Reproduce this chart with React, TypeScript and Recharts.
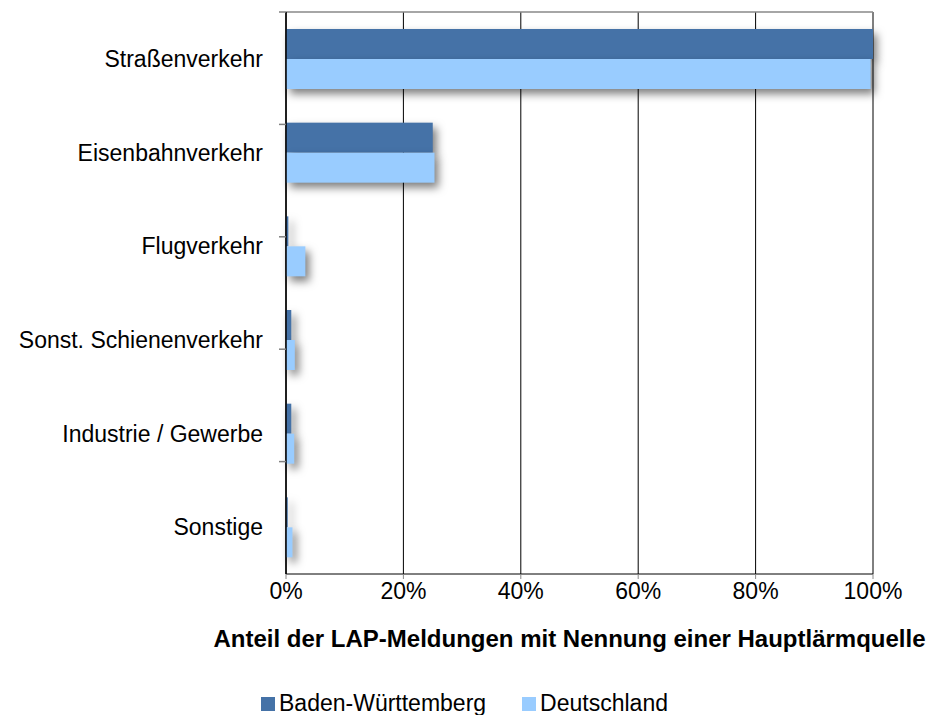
import { BarChart, Bar, XAxis, YAxis, CartesianGrid, Legend } from 'recharts';

const categories = ['Straßenverkehr', 'Eisenbahnverkehr', 'Flugverkehr', 'Sonst. Schienenverkehr', 'Industrie / Gewerbe', 'Sonstige'];
const badenWuerttemberg = [100, 25.0, 0.4, 0.9, 0.9, 0.3];
const deutschland = [99.6, 25.3, 3.3, 1.5, 1.4, 1.1];
const xTicks = [0, 20, 40, 60, 80, 100];
const bandEdges = [1, 2, 3, 4, 5];
const axisTitle = 'Anteil der LAP-Meldungen mit Nennung einer Hauptlärmquelle';

const seriesNames = ['Baden-Württemberg', 'Deutschland'];
const seriesColors = ['#4572A7', '#99CCFF'];

const font = '"Liberation Sans", Arial, sans-serif';

const data = categories.map((name, i) => ({
  name,
  bw: badenWuerttemberg[i],
  de: deutschland[i],
}));

// bar with a soft drop shadow, like the office chart
const ShadowBar = (props: any) => {
  const { x, y, width, height, fill } = props;
  if (!width || width <= 0) return null;
  return (
    <rect
      x={x}
      y={y}
      width={width}
      height={height}
      fill={fill}
      style={{ filter: 'drop-shadow(4px 5px 4px rgba(0,0,0,0.5))' }}
    />
  );
};

// short gray mark at each band edge, just left of the axis line
const EdgeTick = (props: any) => {
  const { x, y } = props;
  return <line x1={x - 7} x2={x} y1={y} y2={y} stroke="#808080" strokeWidth={1.5} />;
};

const LegendContent = () => (
  <div
    style={{
      display: 'flex',
      justifyContent: 'center',
      alignItems: 'flex-end',
      height: 61,
      gap: 36,
      paddingLeft: 2,
      fontFamily: font,
      fontSize: 23,
      lineHeight: '23px',
      color: '#000',
    }}
  >
    {seriesNames.map((n, i) => (
      <span key={n} style={{ display: 'inline-flex', alignItems: 'center' }}>
        <span style={{ width: 14, height: 14, background: seriesColors[i], marginRight: 4, display: 'inline-block' }} />
        {n}
      </span>
    ))}
  </div>
);

export default function App() {
  return (
    <div style={{ position: 'absolute', left: 0, top: 0, width: 927, height: 715, background: '#fff' }}>
      <BarChart
        width={927}
        height={715}
        data={data}
        layout="vertical"
        margin={{ top: 12, right: 54, bottom: 0, left: 0 }}
        barSize={30}
        barGap={0}
        barCategoryGap={17}
      >
        <CartesianGrid horizontal={false} vertical stroke="#000" />
        <XAxis
          type="number"
          domain={[0, 100]}
          ticks={xTicks}
          tickFormatter={(v: number) => `${v}%`}
          height={80}
          axisLine={{ stroke: '#000' }}
          tickLine={{ stroke: '#888' }}
          tickSize={5}
          tickMargin={4}
          tick={{ fill: '#000', fontSize: 23, fontFamily: font }}
          label={(p: any) => {
            const vb = p.viewBox;
            return (
              <text
                x={vb.x + vb.width / 2 - 10}
                y={vb.y + 73}
                textAnchor="middle"
                fontFamily={font}
                fontSize={24}
                fontWeight="bold"
                fill="#000"
              >
                {axisTitle}
              </text>
            );
          }}
        />
        <XAxis
          xAxisId="top"
          orientation="top"
          type="number"
          domain={[0, 100]}
          mirror
          height={1}
          tick={false}
          tickLine={false}
          axisLine={{ stroke: '#888', strokeWidth: 1.5 }}
        />
        <YAxis
          type="category"
          dataKey="name"
          width={286}
          axisLine={false}
          tickLine={false}
          tickSize={7}
          tickMargin={16}
          tick={{ fill: '#000', fontSize: 23, fontFamily: font }}
        />
        <YAxis
          yAxisId="edge"
          type="number"
          domain={[0, 6]}
          reversed
          mirror
          ticks={bandEdges}
          interval={0}
          width={1}
          tickSize={0}
          tickMargin={0}
          tick={<EdgeTick />}
          tickLine={false}
          axisLine={{ stroke: '#000', strokeWidth: 1.5 }}
        />
        <Legend verticalAlign="bottom" content={<LegendContent />} wrapperStyle={{ left: 0, width: 927 }} />
        <Bar dataKey="bw" name={seriesNames[0]} fill={seriesColors[0]} shape={ShadowBar} isAnimationActive={false} />
        <Bar dataKey="de" name={seriesNames[1]} fill={seriesColors[1]} shape={ShadowBar} isAnimationActive={false} />
      </BarChart>
    </div>
  );
}
